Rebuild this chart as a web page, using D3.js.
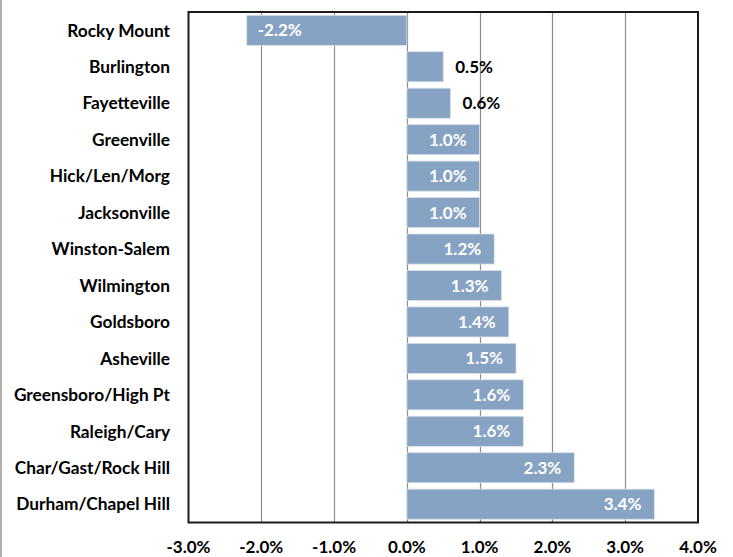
<!DOCTYPE html>
<html>
<head>
<meta charset="utf-8">
<script src="https://cdn.jsdelivr.net/npm/d3@7"></script>
<style>
  body { margin: 0; background: #fff; }
  svg text { font-family: Lato, "Open Sans", sans-serif; font-weight: bold; }
</style>
</head>
<body>
<div id="chart"></div>
<script>
// metro areas, top to bottom
var metros = ["Rocky Mount", "Burlington", "Fayetteville", "Greenville", "Hick/Len/Morg",
  "Jacksonville", "Winston-Salem", "Wilmington", "Goldsboro", "Asheville",
  "Greensboro/High Pt", "Raleigh/Cary", "Char/Gast/Rock Hill", "Durham/Chapel Hill"];
var growth = [-2.2, 0.5, 0.6, 1.0, 1.0, 1.0, 1.2, 1.3, 1.4, 1.5, 1.6, 1.6, 2.3, 3.4];
var xTicks = [-3, -2, -1, 0, 1, 2, 3, 4];

var width = 733, height = 557;
var plot = {left: 188.5, top: 12, right: 698, bottom: 522.5};

var svg = d3.select("#chart").append("svg")
  .attr("width", width)
  .attr("height", height);

// grey strip on the left edge
svg.append("rect")
  .attr("x", 0).attr("y", 0)
  .attr("width", 2).attr("height", height)
  .attr("fill", "#b0b0b0");

var x = d3.scaleLinear().domain([-3, 4]).range([plot.left, plot.right]);
var y = d3.scaleBand().domain(metros).range([plot.top, plot.bottom]).paddingInner(0.175).paddingOuter(0.09);

var data = metros.map(function(m, i) { return {name: m, value: growth[i]}; });

// gridlines
svg.append("g").selectAll("line")
  .data(xTicks.slice(1, -1))
  .enter().append("line")
  .attr("x1", function(d) { return Math.round(x(d)) + 0.5; })
  .attr("x2", function(d) { return Math.round(x(d)) + 0.5; })
  .attr("y1", plot.top)
  .attr("y2", plot.bottom)
  .attr("stroke", "#8c8c8c")
  .attr("stroke-width", 1.2);

// bars
svg.append("g").selectAll("rect")
  .data(data)
  .enter().append("rect")
  .attr("x", function(d) { return x(Math.min(0, d.value)); })
  .attr("y", function(d) { return y(d.name); })
  .attr("width", function(d) { return Math.abs(x(d.value) - x(0)); })
  .attr("height", y.bandwidth())
  .attr("fill", "#87a3c3")
  .attr("stroke", "#d9e1ea")
  .attr("stroke-width", 0.8);

// value labels: negative and big ones inside the bar, small ones outside
svg.append("g").selectAll("text")
  .data(data)
  .enter().append("text")
  .attr("x", function(d) {
    if (d.value < 0) return x(d.value) + 11;
    if (d.value < 1) return x(d.value) + 12;
    return x(d.value) - 13;
  })
  .attr("y", function(d) { return y(d.name) + y.bandwidth() / 2; })
  .attr("dy", "0.36em")
  .attr("text-anchor", function(d) { return d.value < 1 ? "start" : "end"; })
  .attr("fill", function(d) { return (d.value > 0 && d.value < 1) ? "#000" : "#fff"; })
  .style("font-size", "17px")
  .text(function(d) { return d.value.toFixed(1) + "%"; });

// plot border
svg.append("rect")
  .attr("x", plot.left).attr("y", plot.top)
  .attr("width", plot.right - plot.left)
  .attr("height", plot.bottom - plot.top)
  .attr("fill", "none")
  .attr("stroke", "#1a1a1a")
  .attr("stroke-width", 2);

// category labels
svg.append("g").selectAll("text")
  .data(metros)
  .enter().append("text")
  .attr("x", 170)
  .attr("y", function(d) { return y(d) + y.bandwidth() / 2; })
  .attr("dy", "0.36em")
  .attr("text-anchor", "end")
  .attr("fill", "#000")
  .style("font-size", "17.3px")
  .text(function(d) { return d; });

// x axis labels
svg.append("g").selectAll("text")
  .data(xTicks)
  .enter().append("text")
  .attr("x", function(d) { return x(d); })
  .attr("y", 553)
  .attr("text-anchor", "middle")
  .attr("fill", "#000")
  .style("font-size", "17px")
  .text(function(d) { return d.toFixed(1) + "%"; });
</script>
</body>
</html>
